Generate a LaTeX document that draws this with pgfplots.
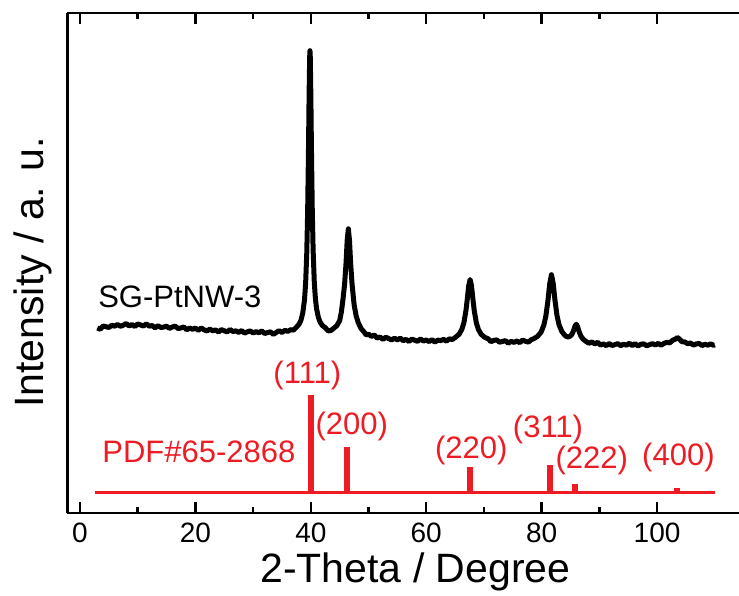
\documentclass[border=0pt]{standalone}
\usepackage{fontspec}
\setmainfont{Liberation Sans}
\usepackage{pgfplots}
\usepackage{pgfplotstable}
\pgfplotsset{compat=1.18}
\definecolor{pdfred}{RGB}{237,28,36}

% measured XRD pattern (arbitrary intensity, red reference lines sit at y=0)
\pgfplotstableread{
x y
3.0 164.5
3.5 163.2
4.0 166.5
4.5 165.8
5.0 165.0
5.5 167.2
6.0 166.3
6.5 168.0
7.0 166.2
7.5 167.3
8.0 169.0
8.5 166.5
9.0 168.0
9.5 166.0
10.0 168.5
10.5 167.5
11.0 166.5
11.5 168.7
12.0 166.3
12.5 167.0
13.0 164.7
13.5 166.8
14.0 165.0
14.5 165.4
15.0 166.3
15.5 164.1
16.0 165.5
16.5 166.4
17.0 163.8
17.5 164.6
18.0 165.5
18.5 162.7
19.0 164.5
19.5 163.2
20.0 164.5
20.5 162.2
21.0 164.5
21.5 162.7
22.0 161.5
22.5 163.4
23.0 161.7
23.5 162.6
24.0 160.5
24.5 162.9
25.0 161.7
25.5 160.6
26.0 163.0
26.5 160.9
27.0 161.7
27.5 160.1
28.0 162.0
28.5 159.4
29.0 160.7
29.5 161.6
30.0 159.5
30.5 160.9
31.0 159.7
31.5 161.6
32.0 159.0
32.5 159.9
33.0 160.7
33.5 158.1
34.0 160.0
34.5 161.9
35.0 160.0
35.5 162.2
36.0 161.1
36.5 162.8
37.0 162.4
37.5 165.2
38.0 168.7
38.3 172.5
38.6 179.4
38.9 192.6
39.1 209.4
39.3 240.4
39.45 281.8
39.6 345.8
39.7 397.8
39.8 435.8
39.85 441.8
39.9 435.8
40.0 397.8
40.1 345.8
40.25 281.8
40.4 241.6
40.6 210.0
40.8 193.3
41.0 183.6
41.3 175.3
41.6 170.5
42.0 167.0
42.5 164.8
43.0 161.6
43.5 162.0
44.0 164.4
44.5 166.8
45.0 171.9
45.3 180.8
45.6 194.6
45.85 208.4
46.1 229.3
46.3 252.3
46.5 263.7
46.7 252.0
46.9 229.0
47.15 208.0
47.5 187.8
47.85 176.7
48.2 170.1
48.7 164.0
49.2 160.7
49.6 157.5
50.0 158.4
50.5 156.1
51.0 157.5
51.5 154.4
52.0 155.5
52.5 153.1
53.0 155.3
53.5 153.9
54.0 152.6
54.5 154.3
55.0 152.6
55.5 154.4
56.0 151.8
56.5 153.1
57.0 151.0
57.5 153.4
58.0 152.3
58.5 151.2
59.0 153.6
59.5 151.5
60.0 152.5
60.5 150.9
61.0 152.9
61.5 150.4
62.0 152.4
62.5 151.9
63.0 153.1
63.5 151.3
64.0 153.7
64.5 152.9
65.08 155.2
65.68 158.2
66.16 163.0
66.52 169.7
66.88 181.8
67.12 193.8
67.36 206.8
67.6 213.0
67.84 206.8
68.08 193.8
68.32 181.8
68.68 169.7
69.04 163.0
69.52 158.2
70.12 155.2
70.72 153.7
71.2 150.9
71.7 152.0
72.2 152.7
72.7 150.3
73.2 151.0
73.7 151.9
74.2 149.3
74.7 151.1
75.2 150.1
75.7 151.6
76.2 149.8
76.7 152.4
77.2 151.2
77.7 150.4
78.2 152.8
78.7 154.0
79.3 156.2
79.9 160.4
80.38 167.4
80.74 176.8
81.1 192.5
81.4 208.9
81.7 217.8
82.0 209.0
82.3 192.7
82.66 176.9
83.02 167.6
83.5 161.0
83.9 158.0
84.2 156.3
84.5 155.6
84.8 155.8
85.2 157.8
85.5 161.4
85.8 166.6
86.0 168.3
86.2 166.3
86.5 160.6
86.8 156.4
87.2 153.2
87.7 151.0
88.2 149.2
88.7 150.6
89.2 148.6
89.7 150.2
90.2 147.4
90.7 148.7
91.2 146.8
91.7 149.0
92.2 147.0
92.7 147.9
93.2 148.9
93.7 146.8
94.2 148.3
94.7 147.3
95.2 149.3
95.7 146.8
96.2 148.9
96.7 146.5
97.2 148.2
97.7 148.7
98.2 146.7
98.7 147.8
99.2 148.9
99.7 147.5
100.2 149.1
100.7 147.3
101.2 149.1
101.7 150.2
102.2 149.6
102.7 152.3
103.2 153.4
103.5 155.0
103.8 153.9
104.3 150.8
104.8 150.6
105.3 148.7
105.8 149.6
106.3 147.3
106.8 148.6
107.3 149.0
107.8 146.9
108.3 148.3
108.8 147.3
109.3 148.7
109.8 147.2
110.0 147.7
}\xrdtable

% PDF#65-2868 reference lines
\pgfplotstableread{
x y
40.0 97.5
46.2 45.8
67.6 25.5
81.4 27.5
85.8 8.5
103.5 4.5
}\pdftable

\begin{document}
\begin{tikzpicture}
\begin{axis}[
    at={(67.5pt,82pt)}, anchor=south west,
    scale only axis,
    width=671.5pt, height=500pt,
    xmin=-2.17, xmax=114.2,
    ymin=-20.5, ymax=479.5,
    axis x line*=box, axis y line*=left,
    axis line style={line width=2.5pt, -},
    xtick={0,20,...,100}, minor x tick num=1,
    ytick=\empty,
    tick align=inside,
    major tick length=11pt, minor tick length=6.5pt,
    every tick/.style={line width=2.5pt, black},
    /pgf/number format/assume math mode=true,
    xticklabel style={font=\fontsize{28}{30}\selectfont, yshift=-6pt},
    xlabel={2-Theta / Degree},
    ylabel={Intensity / a. u.},
    xlabel style={font=\fontsize{41}{45}\selectfont, at={(axis description cs:0.518,-0.118)}, anchor=center},
    ylabel style={font=\fontsize{41}{45}\selectfont, at={(axis description cs:-0.0514,0.481)}, anchor=center},
    clip=false,
]
\addplot[pdfred, line width=2.5pt] coordinates {(2.6,0) (110,0)};
\addplot[pdfred, ycomb, line width=6pt] table[x=x, y=y] {\pdftable};
\addplot[black, line width=5pt, line join=round] table[x=x, y=y] {\xrdtable};

\node[font=\fontsize{31}{33}\selectfont] at (axis cs:17.3,195.5) {SG-PtNW-3};
\begin{scope}[every node/.style={text=pdfred, font=\fontsize{31}{33}\selectfont}]
\node at (axis cs:20.6,40.5) {PDF\#65-2868};
\node at (axis cs:39.4,117.5) {(111)};
\node at (axis cs:47.1,66.5) {(200)};
\node at (axis cs:67.8,42.5) {(220)};
\node at (axis cs:81.1,63) {(311)};
\node at (axis cs:88.7,32.5) {(222)};
\node at (axis cs:103.7,35) {(400)};
\end{scope}
\end{axis}
\pgfresetboundingbox
\path[use as bounding box] (0,0) rectangle (739pt,595pt);
\end{tikzpicture}
\end{document}
